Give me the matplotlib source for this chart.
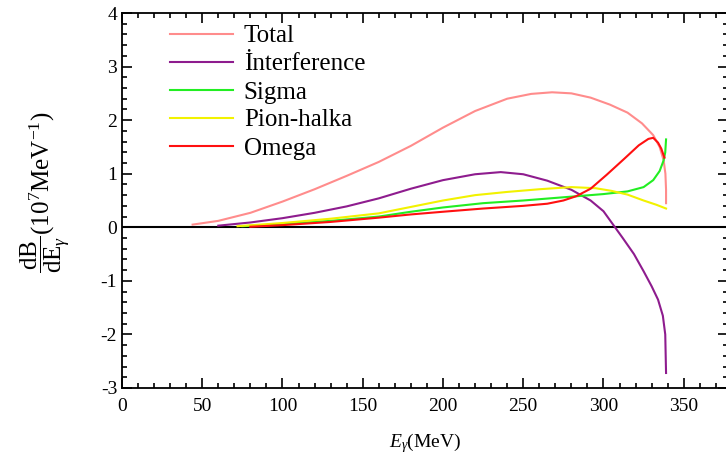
import matplotlib
matplotlib.use("Agg")
import matplotlib.pyplot as plt
from matplotlib.ticker import MultipleLocator

plt.rcParams['font.family'] = ['Liberation Serif', 'DejaVu Serif']
plt.rcParams['mathtext.fontset'] = 'custom'
plt.rcParams['mathtext.rm'] = 'Liberation Serif'
plt.rcParams['mathtext.it'] = 'Liberation Serif:italic'
plt.rcParams['axes.unicode_minus'] = False

# ---- data (E_gamma in MeV, dB/dE in 1e7 MeV^-1) ----
total_x = [44, 60, 80, 100, 120, 140, 160, 180, 200, 220, 240, 255, 268, 280, 292, 304, 315, 324, 331, 335, 337.5, 338.6, 339, 339]
total_y = [0.05, 0.12, 0.27, 0.48, 0.71, 0.96, 1.22, 1.52, 1.86, 2.17, 2.40, 2.49, 2.52, 2.50, 2.42, 2.29, 2.14, 1.94, 1.72, 1.50, 1.25, 1.0, 0.7, 0.45]

interf_x = [60, 80, 100, 120, 140, 160, 180, 200, 220, 236, 250, 265, 280, 292, 300, 306, 312, 319, 325, 330, 334, 337, 338.5, 339]
interf_y = [0.03, 0.09, 0.17, 0.27, 0.39, 0.54, 0.72, 0.88, 0.99, 1.03, 0.99, 0.87, 0.70, 0.50, 0.30, 0.05, -0.2, -0.5, -0.82, -1.1, -1.35, -1.65, -2.0, -2.72]

sigma_x = [75, 100, 130, 160, 180, 200, 225, 250, 275, 300, 315, 325, 331, 335, 337.5, 338.5, 339]
sigma_y = [0.02, 0.06, 0.12, 0.2, 0.29, 0.37, 0.45, 0.5, 0.56, 0.62, 0.67, 0.75, 0.88, 1.05, 1.25, 1.4, 1.64]

pion_x = [72, 100, 130, 160, 180, 200, 220, 240, 260, 280, 295, 305, 315, 325, 333, 339]
pion_y = [0.02, 0.08, 0.16, 0.26, 0.38, 0.5, 0.6, 0.66, 0.71, 0.75, 0.73, 0.68, 0.61, 0.5, 0.42, 0.35]

omega_x = [80, 100, 130, 160, 180, 200, 225, 250, 265, 275, 283, 292, 302, 313, 322, 328, 331, 334, 336, 338]
omega_y = [0.01, 0.04, 0.1, 0.18, 0.24, 0.29, 0.35, 0.4, 0.44, 0.5, 0.58, 0.72, 0.98, 1.28, 1.53, 1.65, 1.67, 1.58, 1.47, 1.3]

labels = ['Total', 'İnterference', 'Sigma', 'Pion-halka', 'Omega']
colors = ['#FF8C8C', '#8E1C8E', '#22EE22', '#F2F200', '#FF1010']

fig = plt.figure(figsize=(7.26, 4.59), dpi=100)
ax = fig.add_axes([122/726, 71/459, 606/726, 375/459])

series = [(total_x, total_y), (interf_x, interf_y), (sigma_x, sigma_y),
          (pion_x, pion_y), (omega_x, omega_y)]
for (xs, ys), lab, c in zip(series, labels, colors):
    ax.plot(xs, ys, color=c, lw=1.5, label=lab)

ax.axhline(0, color='black', lw=1.5, zorder=1)

ax.set_xlim(0, 377.6)
ax.set_ylim(-3, 4)
ax.xaxis.set_major_locator(MultipleLocator(50))
ax.xaxis.set_minor_locator(MultipleLocator(10))
ax.yaxis.set_major_locator(MultipleLocator(1))
ax.yaxis.set_minor_locator(MultipleLocator(0.2))
ax.tick_params(which='both', direction='in', top=True, right=True, labelsize=14, width=1.2)
ax.tick_params(which='major', length=7)
ax.tick_params(which='minor', length=3.5)
ax.tick_params(axis='x', pad=7)
for s in ax.spines.values():
    s.set_linewidth(1.3)
ax.spines['right'].set_visible(False)

ax.set_xlabel(r'$E_\gamma$(MeV)', fontsize=14, labelpad=12)
ax.set_ylabel(r'$\dfrac{\mathrm{dB}}{\mathrm{dE}_\gamma}$(10$^7$MeV$^{-1}$)', fontsize=18)
ax.yaxis.set_label_coords(-0.083, 0.523)

leg = ax.legend(loc='upper left', bbox_to_anchor=(48/606, 1 - 12/375), frameon=False,
                fontsize=18, handlelength=2.5, handletextpad=0.45, labelspacing=0.22,
                borderpad=0, borderaxespad=0)

fig.savefig('out.png', dpi=100)
